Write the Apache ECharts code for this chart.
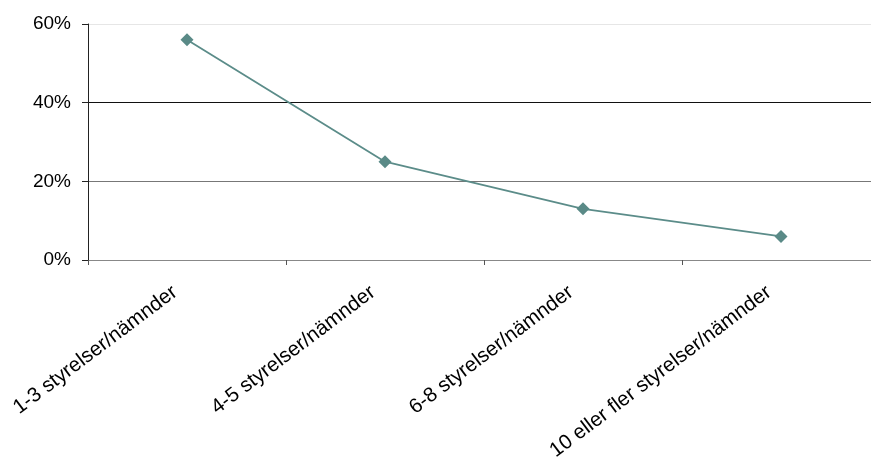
<!DOCTYPE html>
<html>
<head>
<meta charset="utf-8">
<script src="https://cdn.jsdelivr.net/npm/echarts@6/dist/echarts.min.js"></script>
<style>
  html, body { margin: 0; padding: 0; background: #fff; overflow: hidden; }
  #chart { width: 871px; height: 464px; }
</style>
</head>
<body>
<div id="chart"></div>
<script>
// Share of respondents by number of boards/committees
const categories = ['1-3 styrelser/nämnder', '4-5 styrelser/nämnder', '6-8 styrelser/nämnder', '10 eller fler styrelser/nämnder'];
const shares = [56, 25, 13, 6];
const yTicks = [0, 20, 40, 60];

const chart = echarts.init(document.getElementById('chart'));
chart.setOption({
  animation: false,
  backgroundColor: '#ffffff',
  // plot area runs a little past the right edge of the canvas
  grid: { left: 88, top: 24, width: 792, height: 236, containLabel: false, outerBoundsMode: 'none' },
  xAxis: {
    type: 'category',
    data: categories,
    boundaryGap: true,
    axisLine: { lineStyle: { color: '#888888', width: 1 } },
    axisTick: { show: true, length: 5, alignWithLabel: false, lineStyle: { color: '#555555' } },
    axisLabel: {
      rotate: 37,
      interval: 0,
      margin: 21,
      padding: [0, 15, 0, 0],
      color: '#000000',
      fontFamily: 'Liberation Sans, Arial, sans-serif',
      fontSize: 20.5
    },
    splitLine: { show: false }
  },
  yAxis: {
    type: 'value',
    min: yTicks[0],
    max: yTicks[yTicks.length - 1],
    interval: 20,
    axisLine: { show: true, lineStyle: { color: '#222222', width: 1 } },
    axisTick: { show: true, length: 6, lineStyle: { color: '#222222' } },
    axisLabel: {
      margin: 17,
      color: '#000000',
      fontFamily: 'Liberation Sans, Arial, sans-serif',
      fontSize: 19,
      formatter: v => v + '%'
    },
    splitLine: {
      show: true,
      lineStyle: { color: ['#888888', '#777777', '#111111', '#e6e6e6'], width: 1 }
    }
  },
  series: [{
    type: 'line',
    data: shares,
    symbol: 'diamond',
    symbolSize: 13,
    itemStyle: { color: '#5a8a87' },
    lineStyle: { color: '#5b8c89', width: 1.8 }
  }]
});
</script>
</body>
</html>
